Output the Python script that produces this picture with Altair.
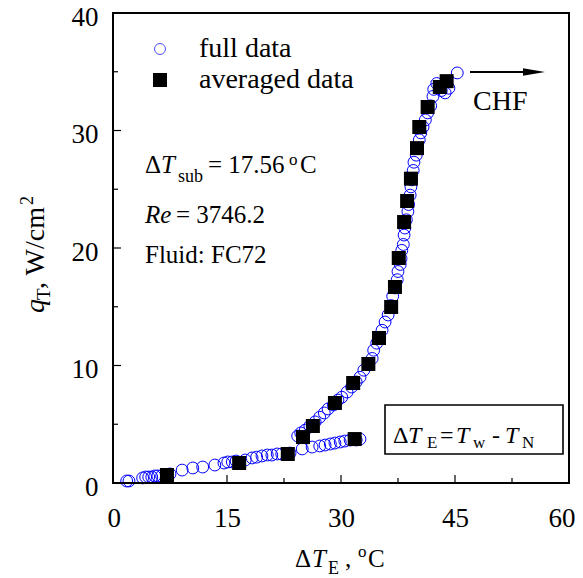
import altair as alt
import pandas as pd

FONT = "Liberation Serif"
W, H = 456, 470

# ---- data ----
full_x = [1.8, 2.1, 3.9, 4.3, 4.7, 5.1, 5.5, 5.9, 6.4, 7.5, 9.1, 10.5, 11.8, 13.4, 14.6, 15.1,
          15.7, 16.2, 17.4, 18.3, 18.9, 19.6, 20.3, 20.9, 21.6, 22.2, 23.3, 24.9, 26.2, 27.2,
          27.9, 28.6, 29.2, 29.9, 30.5, 31.2, 32.0, 32.5,
          24.3, 24.7, 25.3, 25.9, 26.6, 27.2, 27.8, 28.3, 29.0, 29.6, 30.1, 30.8, 31.4, 32.0,
          32.5, 33.0, 33.6, 34.1, 34.3, 34.7, 35.1, 35.4, 35.8, 36.2, 36.6, 36.8, 37.1, 37.4,
          37.5, 37.8, 37.9, 38.0, 38.2, 38.3, 38.4, 38.6, 38.8, 38.9, 39.1, 39.2, 39.3, 39.5,
          39.6, 39.9, 40.0, 40.3, 40.5, 40.8, 41.1, 41.4, 41.8, 42.1, 42.2, 42.6, 43.2, 43.7,
          44.2, 45.3]
full_y = [0.17, 0.17, 0.43, 0.51, 0.51, 0.51, 0.60, 0.60, 0.60, 0.77, 1.10, 1.28, 1.36, 1.53, 1.70, 1.79,
          1.79, 1.87, 1.96, 2.13, 2.20, 2.30, 2.38, 2.38, 2.47, 2.47, 2.55, 2.90, 3.06, 3.15,
          3.23, 3.32, 3.40, 3.49, 3.57, 3.66, 3.66, 3.74,
          4.0, 4.26, 4.5, 4.85, 5.2, 5.6, 5.96, 6.3, 6.64, 7.06, 7.3, 7.74, 8.17, 8.6,
          9.0, 9.6, 10.1, 10.6, 11.3, 11.9, 12.4, 13.0, 13.7, 14.3, 15.1, 15.9, 16.6, 17.3,
          18.0, 18.6, 19.1, 19.8, 20.3, 21.1, 21.7, 22.4, 23.1, 23.7, 24.5, 25.2, 25.8, 26.6,
          27.3, 27.9, 28.5, 29.2, 29.8, 30.3, 30.9, 31.5, 32.1, 32.9, 33.5, 34.0, 33.4, 33.2,
          33.6, 34.9]
avg_x = [7.1, 16.6, 23.0, 31.8, 25.0, 26.3, 29.2, 31.6, 33.6, 35.0, 36.6, 37.1, 37.6, 38.3,
         38.7, 39.2, 40.0, 40.3, 41.4, 43.0, 43.9]
avg_y = [0.68, 1.70, 2.47, 3.74, 3.91, 4.85, 6.81, 8.51, 10.13, 12.34, 14.98, 16.68, 19.15, 22.21,
         24.0, 25.9, 28.5, 30.3, 32.0, 33.7, 34.2]

x_major = [0, 15, 30, 45, 60]
x_minor = [7.5, 22.5, 37.5, 52.5]
y_major = [0, 10, 20, 30, 40]
y_minor = [5, 15, 25, 35]

full = pd.DataFrame({"x": full_x, "y": full_y})
avg = pd.DataFrame({"x": avg_x, "y": avg_y})
ONE = pd.DataFrame({"k": [0]})

xs = alt.Scale(domain=[0, 60], nice=False, zero=False)
ys = alt.Scale(domain=[0, 40], nice=False, zero=False)
AX = alt.Axis(values=x_major, ticks=False, domain=False, grid=False, labelFont=FONT,
              labelFontSize=27, labelColor="black", labelPadding=22, title=None,
              labelFlush=True, labelFlushOffset=6)
AY = alt.Axis(values=y_major, ticks=False, domain=False, grid=False, labelFont=FONT,
              labelFontSize=27, labelColor="black", labelPadding=15, title=None, labelFlush=False,
              labelOffset=4)

circles = alt.Chart(full).mark_point(
    shape="circle", filled=False, color="#0000FF", size=140, strokeWidth=1, opacity=1
).encode(x=alt.X("x:Q", scale=xs, axis=AX), y=alt.Y("y:Q", scale=ys, axis=AY))

squares = alt.Chart(avg).mark_square(color="black", size=196, opacity=1).encode(
    x=alt.X("x:Q", scale=xs, axis=AX), y=alt.Y("y:Q", scale=ys, axis=AY)
)


def xticks(vals, length):
    return alt.Chart(pd.DataFrame({"v": vals})).mark_rule(color="black", strokeWidth=1.2).encode(
        x=alt.X("v:Q", scale=xs, axis=AX), y=alt.value(H), y2=alt.value(H - length))


def yticks(vals, length):
    return alt.Chart(pd.DataFrame({"v": vals})).mark_rule(color="black", strokeWidth=1.2).encode(
        y=alt.Y("v:Q", scale=ys, axis=AY), x=alt.value(0), x2=alt.value(length))


def txt(s, x, y, size=25, italic=False, angle=None):
    kw = dict(text=s, font=FONT, fontSize=size, align="left", baseline="alphabetic")
    if italic:
        kw["fontStyle"] = "italic"
    if angle is not None:
        kw["angle"] = angle
    return alt.Chart(ONE).mark_text(**kw).encode(x=alt.value(x), y=alt.value(y))


layers = [
    xticks(x_major, 8), xticks(x_minor, 5), yticks(y_major, 8), yticks(y_minor, 5),
    circles, squares,
]

# legend
layers.append(alt.Chart(ONE).mark_point(shape="circle", filled=False, color="#0000FF", size=120,
                                        strokeWidth=1).encode(x=alt.value(47), y=alt.value(36)))
layers.append(alt.Chart(ONE).mark_square(color="black", size=196, opacity=1).encode(
    x=alt.value(47), y=alt.value(67)))
layers += [txt("full data", 86, 44, size=28), txt("averaged data", 86, 75, size=28)]

# annotations
layers += [
    txt("Δ", 32, 160), txt("T", 48, 160, italic=True), txt("sub", 65, 169, size=18),
    txt("= 17.56", 95, 160), txt("o", 176, 152, size=17), txt("C", 187, 160),
    txt("Re", 32, 210, italic=True), txt("= 3746.2", 63, 210),
    txt("Fluid: FC72", 32, 250),
    txt("CHF", 360, 97, size=28),
]

# arrow
layers.append(alt.Chart(ONE).mark_rule(color="black", strokeWidth=2).encode(
    x=alt.value(357), x2=alt.value(420), y=alt.value(59)))
layers.append(alt.Chart(ONE).mark_point(shape="M -1 -0.34 L 1 0 L -1 0.34 Z", filled=True,
                                        color="black", size=484, opacity=1).encode(
    x=alt.value(421), y=alt.value(59)))

# box
layers.append(alt.Chart(ONE).mark_rect(fill="white", stroke="black", strokeWidth=1.6).encode(
    x=alt.value(272), x2=alt.value(450), y=alt.value(392), y2=alt.value(441)))
layers += [
    txt("Δ", 280, 430, size=24), txt("T", 295, 430, size=24, italic=True), txt("E", 314, 435, size=17),
    txt("=", 327, 430, size=24), txt("T", 343, 430, size=24, italic=True), txt("w", 360, 435, size=17),
    txt("-", 379, 430, size=24), txt("T", 392, 430, size=24, italic=True), txt("N", 409, 435, size=17),
]

# x title
layers += [
    txt("Δ", 182, 554), txt("T", 199, 554, italic=True), txt("E", 215, 561, size=18),
    txt(",", 232, 554), txt("o", 245, 544, size=17), txt("C", 255, 554),
]
# y title (rotated)
layers += [
    txt("q", -69, 300, size=28, italic=True, angle=270), txt("T", -63, 287, size=19, angle=270),
    txt(", W/cm", -69, 276, size=28, angle=270), txt("2", -80, 192, size=18, angle=270),
]

# plot frame
layers.append(alt.Chart(ONE).mark_rect(fillOpacity=0, stroke="black", strokeWidth=2).encode(
    x=alt.value(0), x2=alt.value(W), y=alt.value(0), y2=alt.value(H)))

chart = alt.layer(*layers).properties(
    width=W, height=H,
    padding={"left": 105, "top": 5, "right": 6, "bottom": 95},
    autosize=alt.AutoSizeParams(type="none"),
)

chart.save("out.html", embed_options={"renderer": "svg", "actions": False})
